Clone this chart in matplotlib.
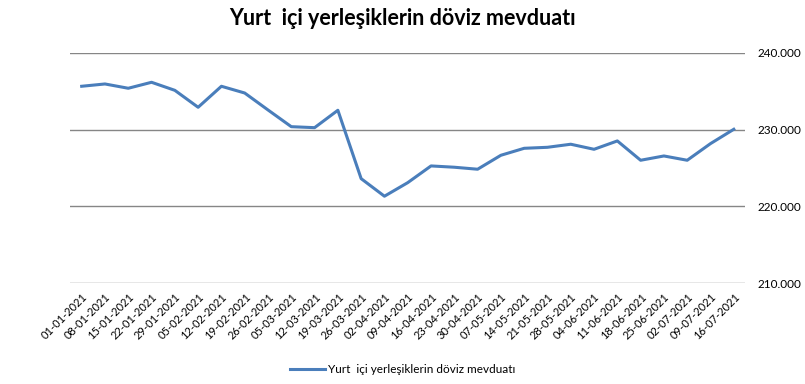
import matplotlib.pyplot as plt
from matplotlib.ticker import FuncFormatter

plt.rcParams['font.family'] = ['Lato', 'DejaVu Sans']

dates = ['01-01-2021', '08-01-2021', '15-01-2021', '22-01-2021', '29-01-2021',
         '05-02-2021', '12-02-2021', '19-02-2021', '26-02-2021',
         '05-03-2021', '12-03-2021', '19-03-2021', '26-03-2021',
         '02-04-2021', '09-04-2021', '16-04-2021', '23-04-2021', '30-04-2021',
         '07-05-2021', '14-05-2021', '21-05-2021', '28-05-2021',
         '04-06-2021', '11-06-2021', '18-06-2021', '25-06-2021',
         '02-07-2021', '09-07-2021', '16-07-2021']
deposits = [235660, 235960, 235400, 236180, 235130,
            232920, 235660, 234780, 232570,
            230390, 230260, 232530, 223610,
            221320, 223090, 225270, 225100, 224840,
            226660, 227570, 227700, 228100,
            227440, 228530, 226010, 226570,
            226010, 228180, 230050]
label = 'Yurt  içi yerleşiklerin döviz mevduatı'

fig = plt.figure(figsize=(8.05, 3.84), dpi=100)
ax = fig.add_axes([0.087, 0.263, 0.839, 0.599])

x = list(range(len(dates)))
ax.plot(x, deposits, color='#4a7ebb', linewidth=2.2, label=label)

ax.set_xlim(-0.5, len(dates) - 0.5)
ax.set_ylim(210000, 240000)
ax.set_yticks([210000, 220000, 230000, 240000])
ax.yaxis.set_major_formatter(FuncFormatter(lambda v, p: f'{int(v):,}'.replace(',', '.')))
ax.yaxis.tick_right()
ax.tick_params(axis='y', length=0, pad=9, labelsize=8.5)
ax.grid(axis='y', color='#868686', linewidth=1)
ax.set_axisbelow(True)

ax.set_xticks(x)
ax.set_xticklabels(dates, rotation=45, ha='right', rotation_mode='anchor', fontsize=8)
ax.tick_params(axis='x', length=0, pad=6)

for s in ax.spines.values():
    s.set_visible(False)

fig.suptitle(label, x=0.5, y=0.98, fontsize=15.5, fontweight='bold')
fig.legend(loc='center', bbox_to_anchor=(0.5, 0.038), frameon=False, fontsize=8.5,
           handlelength=3, handletextpad=0.2)

fig.savefig('out.png', dpi=100)
